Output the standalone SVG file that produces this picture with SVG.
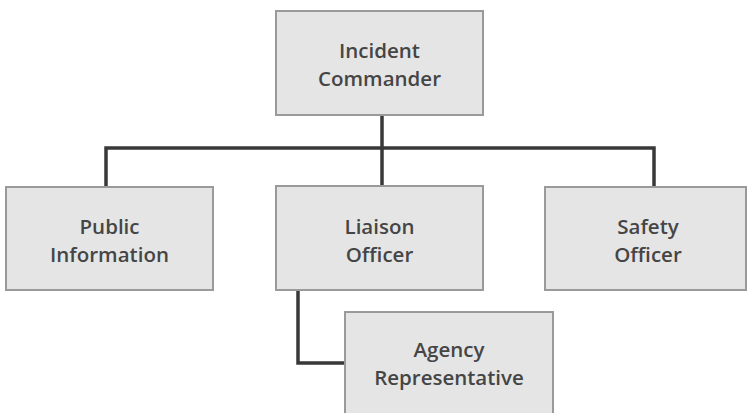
<svg xmlns="http://www.w3.org/2000/svg" width="747" height="413" viewBox="0 0 747 413">
<style>
.box{fill:#e5e5e5;stroke:#9a9a9a;stroke-width:2}
.lbl{font-family:"Open Sans","DejaVu Sans",sans-serif;font-size:20.5px;font-weight:600;fill:#454545;text-anchor:middle}
.conn{fill:none;stroke:#383838;stroke-width:3.5}
</style>
<rect width="747" height="413" fill="#fff"/>
<g id="connectors">
<path class="conn" d="M382 115 V148 M106 187 V148 H654 V187 M382 148 V186"/>
<path class="conn" d="M298 290 V363 H345"/>
</g>
<g id="incident-commander">
<rect class="box" x="276" y="11" width="207" height="104"/>
<text class="lbl" x="379.5" y="58">Incident</text>
<text class="lbl" x="379.5" y="86">Commander</text>
</g>
<g id="public-information">
<rect class="box" x="6" y="187" width="207" height="103"/>
<text class="lbl" x="109.5" y="234">Public</text>
<text class="lbl" x="109.5" y="262">Information</text>
</g>
<g id="liaison-officer">
<rect class="box" x="276" y="186" width="207" height="104"/>
<text class="lbl" x="379.5" y="234">Liaison</text>
<text class="lbl" x="379.5" y="262">Officer</text>
</g>
<g id="safety-officer">
<rect class="box" x="545" y="187" width="201" height="103"/>
<text class="lbl" x="648" y="234">Safety</text>
<text class="lbl" x="648" y="262">Officer</text>
</g>
<g id="agency-representative">
<rect class="box" x="345" y="312" width="208" height="110"/>
<text class="lbl" x="449" y="357">Agency</text>
<text class="lbl" x="449" y="385">Representative</text>
</g>
</svg>
